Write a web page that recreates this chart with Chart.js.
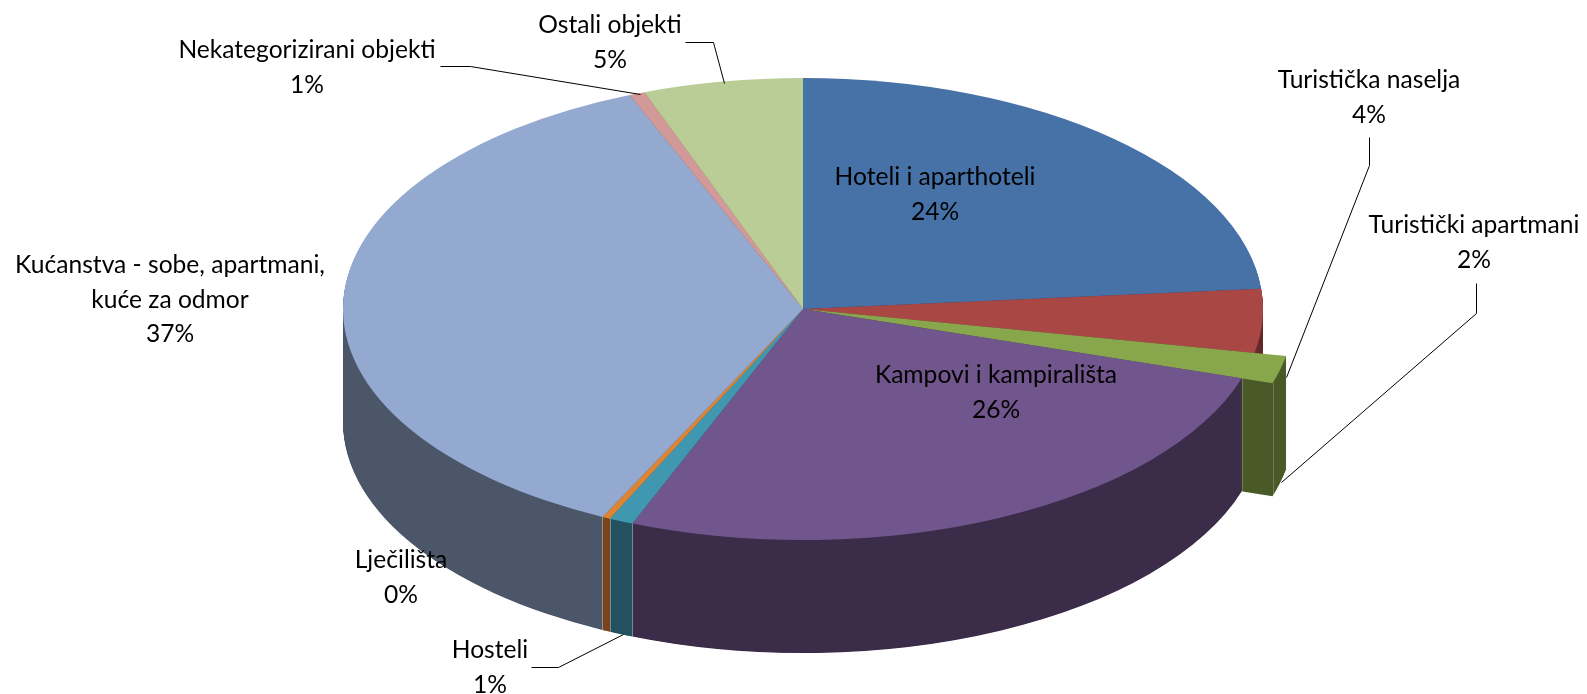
<!DOCTYPE html>
<html>
<head>
<meta charset="utf-8">
<style>
  html, body { margin: 0; padding: 0; background: #fff; }
  #wrap { position: relative; width: 1587px; height: 694px; }
</style>
<script src="https://cdn.jsdelivr.net/npm/chart.js@4"></script>
</head>
<body>
<div id="wrap"><canvas id="pieChart"></canvas></div>
<script>
const categories = ["Hoteli i aparthoteli", "Turistička naselja", "Turistički apartmani", "Kampovi i kampirališta", "Hosteli", "Lječilišta", "Kućanstva - sobe, apartmani, kuće za odmor", "Nekategorizirani objekti", "Ostali objekti"];
const shares = [23.6, 4.45, 1.8, 26.2, 0.85, 0.28, 36.67, 0.55, 5.6];
const shareLabels = ["24%", "4%", "2%", "26%", "1%", "0%", "37%", "1%", "5%"];
const topColors = ["#4672a8", "#a94745", "#88a64c", "#70568c", "#3f98b0", "#dd8535", "#94a9d0", "#d19a99", "#bbcd96"];
const sideColors = ["#2a4466", "#662a29", "#4a5a28", "#3b2c4a", "#245160", "#7a441a", "#4c5669", "#7a5a59", "#6d7857"];
const radiusBoost = [1, 1, 1.07, 1, 1, 1, 1, 1, 1];

// where the squashed pie sits on the page
const pieCx = 803, pieCy = 309, pieRx = 460, pieRy = 231, pieDepth = 113;

// label anchors and leader polylines
const labelAnchors = [[935, 177], [1369, 80], [1474, 225], [996, 375], [490, 650], [401, 560], [170, 265], [307, 50], [610, 25]];
const labelLines = [
  ["Hoteli i aparthoteli"], ["Turistička naselja"], ["Turistički apartmani"],
  ["Kampovi i kampirališta"], ["Hosteli"], ["Lječilišta"],
  ["Kućanstva - sobe, apartmani,", "kuće za odmor"],
  ["Nekategorizirani objekti"], ["Ostali objekti"]
];
const leaders = [
  [[1369, 137], [1369, 165], [1286, 377]],
  [[1476, 283], [1476, 313], [1281, 482]],
  [[531, 667], [558, 667], [623, 634]],
  [[440, 66], [470, 66], [640, 94]],
  [[685, 42], [713, 42], [724, 83]]
];

const pie3d = {
  id: "pie3d",
  beforeDatasetsDraw(chart) {
    const ctx = chart.ctx;
    const arcs = chart.getDatasetMeta(0).data;
    const base = arcs[0];
    const r = base.outerRadius;
    const sx = pieRx / r, sy = pieRy / r;
    arcs.forEach((el, i) => { el.outerRadius = r * radiusBoost[i]; });

    ctx.save();
    ctx.translate(pieCx, pieCy);
    ctx.scale(sx, sy);
    ctx.translate(-base.x, -base.y);
    // side wall: stack the slices from the bottom up
    for (let d = pieDepth; d > 0; d--) {
      ctx.save();
      ctx.translate(0, d / sy);
      arcs.forEach((el, i) => {
        const saved = el.options;
        const o = Object.create(saved);
        o.backgroundColor = sideColors[i];
        el.options = o;
        el.draw(ctx);
        el.options = saved;
      });
      ctx.restore();
    }
    ctx.restore();

    // flat repaint of the front wall, the stacking leaves faint bands
    arcs.forEach((el, i) => {
      const from = Math.max(el.startAngle, 0), to = Math.min(el.endAngle, Math.PI);
      if (to <= from || el.startAngle < 0.25) return;
      ctx.beginPath();
      ctx.ellipse(pieCx, pieCy, pieRx - 0.5, pieRy, 0, from, to);
      ctx.ellipse(pieCx, pieCy + pieDepth - 0.5, pieRx - 0.5, pieRy, 0, to, from, true);
      ctx.closePath();
      ctx.fillStyle = sideColors[i];
      ctx.fill();
    });

    ctx.save();
    ctx.translate(pieCx, pieCy);
    ctx.scale(sx, sy);
    ctx.translate(-base.x, -base.y);
    arcs.forEach(el => el.draw(ctx));
    ctx.restore();

    // faint seams on the front wall, at the slice edges
    ctx.save();
    ctx.strokeStyle = "rgba(255,255,255,0.2)";
    ctx.lineWidth = 1;
    arcs.forEach((el, i) => {
      [el.startAngle, el.endAngle].forEach(a => {
        if (Math.sin(a) <= 0.2) return;
        if (radiusBoost[i] === 1 && a === el.endAngle && radiusBoost[i + 1] !== 1) return;
        const px = pieCx + Math.cos(a) * el.outerRadius * sx;
        const py = pieCy + Math.sin(a) * el.outerRadius * sy;
        ctx.beginPath();
        ctx.moveTo(Math.round(px) + 0.5, py);
        ctx.lineTo(Math.round(px) + 0.5, py + pieDepth);
        ctx.stroke();
      });
    });
    ctx.restore();

    arcs.forEach(el => { el.outerRadius = r; });
    return false;
  },
  afterDraw(chart) {
    const ctx = chart.ctx;
    ctx.save();
    ctx.strokeStyle = "#000";
    ctx.lineWidth = 1;
    leaders.forEach(pts => {
      ctx.beginPath();
      pts.forEach((p, i) => i ? ctx.lineTo(p[0] + 0.5, p[1] + 0.5) : ctx.moveTo(p[0] + 0.5, p[1] + 0.5));
      ctx.stroke();
    });
    ctx.fillStyle = "#000";
    ctx.font = "24.6px Lato";
    ctx.textAlign = "center";
    ctx.textBaseline = "middle";
    labelAnchors.forEach((a, i) => {
      const lines = labelLines[i].concat(shareLabels[i]);
      lines.forEach((t, k) => ctx.fillText(t, a[0], a[1] + k * 34.6));
    });
    ctx.restore();
  }
};

new Chart(document.getElementById("pieChart"), {
  type: "pie",
  data: {
    labels: categories,
    datasets: [{
      data: shares,
      backgroundColor: topColors,
      borderWidth: 0
    }]
  },
  options: {
    responsive: true,
    maintainAspectRatio: false,
    animation: false,
    plugins: {
      legend: { display: false },
      tooltip: { enabled: false }
    }
  },
  plugins: [pie3d]
});
</script>
</body>
</html>
